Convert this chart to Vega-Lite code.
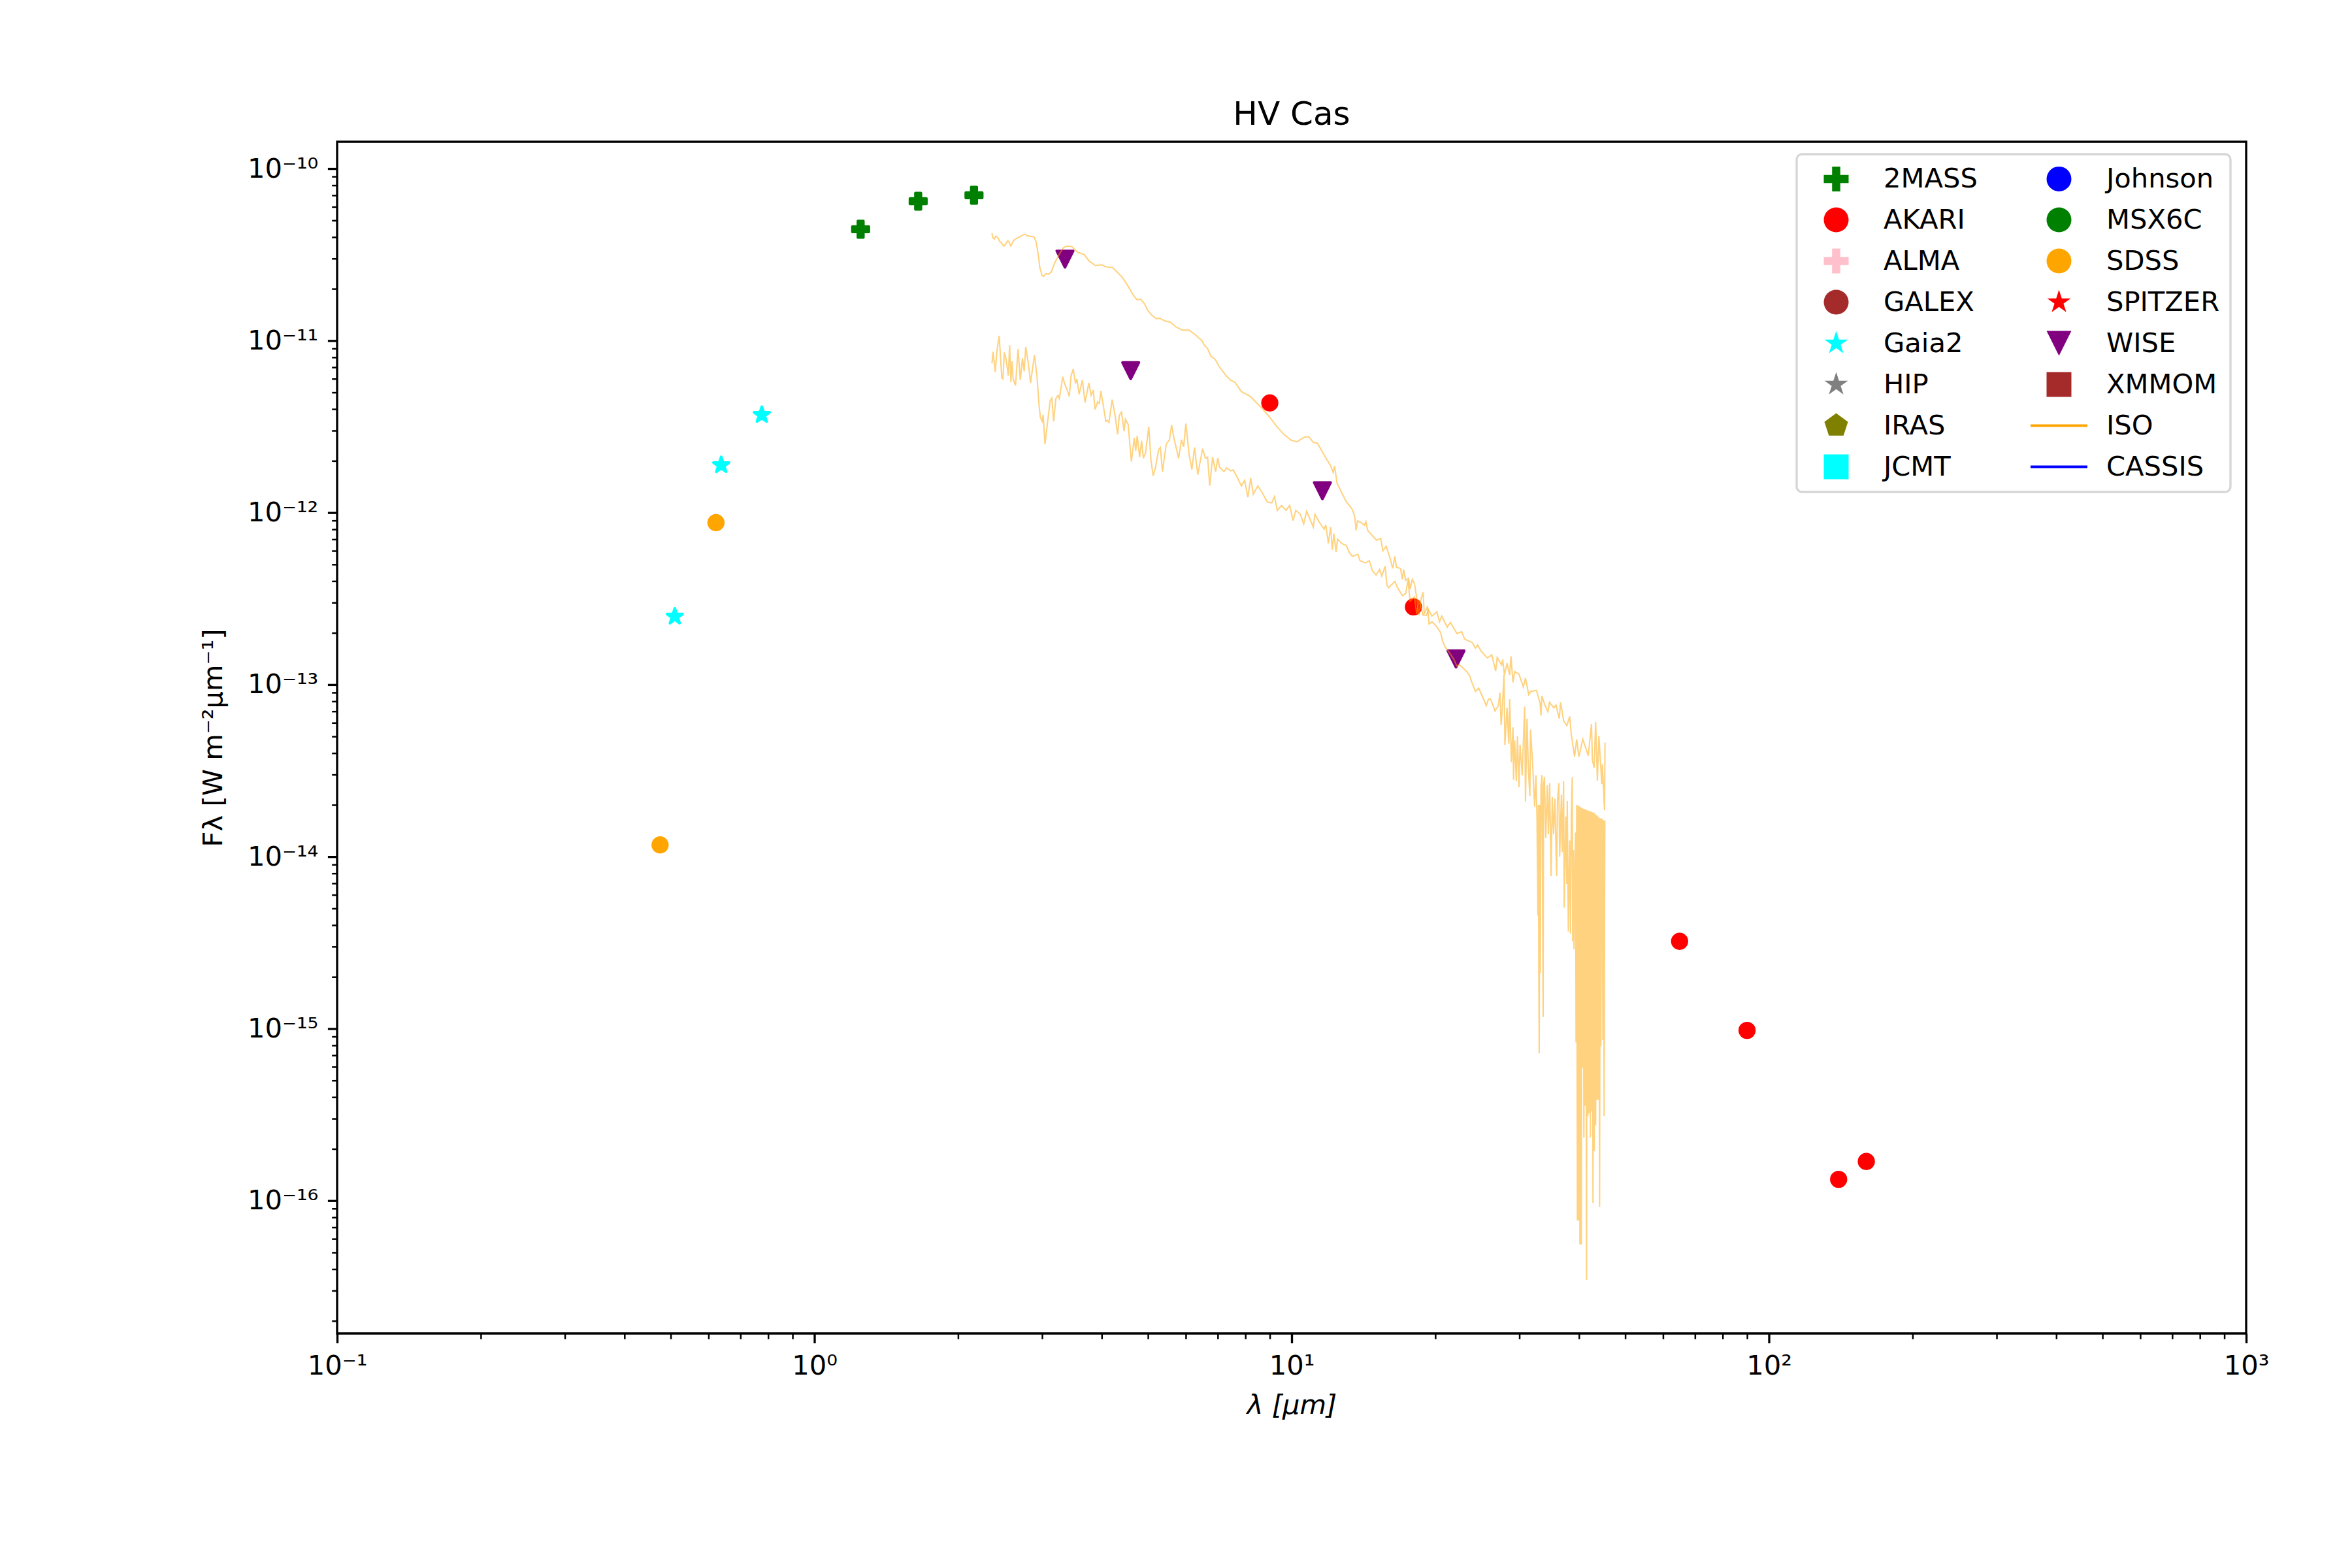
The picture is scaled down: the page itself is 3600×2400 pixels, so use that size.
{"$schema":"https://vega.github.io/schema/vega-lite/v6.json","autosize":{"type":"none"},"padding":{"left":516,"top":217,"right":162,"bottom":359},"width":2922,"height":1824,"background":"white","config":{"view":{"stroke":"black","strokeWidth":3.33},"font":"DejaVu Sans","legend":{"symbolSize":1444,"symbolStrokeWidth":4.17,"symbolOffset":23,"labelOffset":51,"columnPadding":80,"rowPadding":19,"padding":16,"labelFont":"DejaVu Sans","labelFontSize":41.67,"labelColor":"black","labelLimit":400,"strokeColor":"#d6d6d6","strokeWidth":3.33,"fillColor":"white","cornerRadius":8}},"title":{"text":"HV Cas","font":"DejaVu Sans","fontSize":50,"fontWeight":"normal","color":"black","anchor":"middle","offset":16},"datasets":{"photometry":[{"source":"2MASS","wavelength":1.25,"flux":4.44e-11},{"source":"2MASS","wavelength":1.65,"flux":6.46e-11},{"source":"2MASS","wavelength":2.16,"flux":7.0e-11},{"source":"AKARI","wavelength":9,"flux":4.34e-12},{"source":"AKARI","wavelength":18,"flux":2.83e-13},{"source":"AKARI","wavelength":65,"flux":3.22e-15},{"source":"AKARI","wavelength":90,"flux":9.77e-16},{"source":"AKARI","wavelength":140,"flux":1.33e-16},{"source":"AKARI","wavelength":160,"flux":1.69e-16},{"source":"Gaia2","wavelength":0.51,"flux":2.49e-13},{"source":"Gaia2","wavelength":0.638,"flux":1.89e-12},{"source":"Gaia2","wavelength":0.776,"flux":3.7e-12},{"source":"SDSS","wavelength":0.475,"flux":1.17e-14},{"source":"SDSS","wavelength":0.622,"flux":8.74e-13},{"source":"WISE","wavelength":3.35,"flux":2.98e-11},{"source":"WISE","wavelength":4.6,"flux":6.69e-12},{"source":"WISE","wavelength":11.6,"flux":1.34e-12},{"source":"WISE","wavelength":22.1,"flux":1.41e-13}],"iso":[{"spec":"a","wl":2.356,"flux":4.22e-11},{"spec":"a","wl":2.363,"flux":3.98e-11},{"spec":"a","wl":2.383,"flux":3.89e-11},{"spec":"a","wl":2.398,"flux":4.04e-11},{"spec":"a","wl":2.423,"flux":3.98e-11},{"spec":"a","wl":2.444,"flux":3.78e-11},{"spec":"a","wl":2.464,"flux":3.7e-11},{"spec":"a","wl":2.496,"flux":3.54e-11},{"spec":"a","wl":2.517,"flux":3.65e-11},{"spec":"a","wl":2.538,"flux":3.79e-11},{"spec":"a","wl":2.554,"flux":3.78e-11},{"spec":"a","wl":2.581,"flux":3.54e-11},{"spec":"a","wl":2.603,"flux":3.73e-11},{"spec":"a","wl":2.63,"flux":3.89e-11},{"spec":"a","wl":2.672,"flux":3.96e-11},{"spec":"a","wl":2.715,"flux":4.07e-11},{"spec":"a","wl":2.758,"flux":4.15e-11},{"spec":"a","wl":2.808,"flux":4.05e-11},{"spec":"a","wl":2.885,"flux":4.01e-11},{"spec":"a","wl":2.915,"flux":3.75e-11},{"spec":"a","wl":2.946,"flux":3.15e-11},{"spec":"a","wl":2.968,"flux":2.65e-11},{"spec":"a","wl":3.0,"flux":2.39e-11},{"spec":"a","wl":3.022,"flux":2.36e-11},{"spec":"a","wl":3.057,"flux":2.45e-11},{"spec":"a","wl":3.096,"flux":2.43e-11},{"spec":"a","wl":3.138,"flux":2.51e-11},{"spec":"a","wl":3.185,"flux":2.81e-11},{"spec":"a","wl":3.246,"flux":3.11e-11},{"spec":"a","wl":3.314,"flux":3.44e-11},{"spec":"a","wl":3.368,"flux":3.54e-11},{"spec":"a","wl":3.457,"flux":3.53e-11},{"spec":"a","wl":3.512,"flux":3.39e-11},{"spec":"a","wl":3.568,"flux":3.25e-11},{"spec":"a","wl":3.674,"flux":3.17e-11},{"spec":"a","wl":3.76,"flux":2.91e-11},{"spec":"a","wl":3.88,"flux":2.73e-11},{"spec":"a","wl":4.004,"flux":2.76e-11},{"spec":"a","wl":4.068,"flux":2.69e-11},{"spec":"a","wl":4.213,"flux":2.66e-11},{"spec":"a","wl":4.311,"flux":2.5e-11},{"spec":"a","wl":4.426,"flux":2.32e-11},{"spec":"a","wl":4.544,"flux":2.07e-11},{"spec":"a","wl":4.64,"flux":1.87e-11},{"spec":"a","wl":4.738,"flux":1.73e-11},{"spec":"a","wl":4.828,"flux":1.74e-11},{"spec":"a","wl":4.916,"flux":1.64e-11},{"spec":"a","wl":4.994,"flux":1.5e-11},{"spec":"a","wl":5.1,"flux":1.4e-11},{"spec":"a","wl":5.208,"flux":1.34e-11},{"spec":"a","wl":5.291,"flux":1.35e-11},{"spec":"a","wl":5.432,"flux":1.3e-11},{"spec":"a","wl":5.576,"flux":1.28e-11},{"spec":"a","wl":5.724,"flux":1.2e-11},{"spec":"a","wl":5.907,"flux":1.15e-11},{"spec":"a","wl":6.097,"flux":1.15e-11},{"spec":"a","wl":6.259,"flux":1.09e-11},{"spec":"a","wl":6.493,"flux":9.97e-12},{"spec":"a","wl":6.561,"flux":9.4e-12},{"spec":"a","wl":6.665,"flux":9.0e-12},{"spec":"a","wl":6.771,"flux":8.13e-12},{"spec":"a","wl":6.915,"flux":7.78e-12},{"spec":"a","wl":7.062,"flux":7.02e-12},{"spec":"a","wl":7.288,"flux":6.25e-12},{"spec":"a","wl":7.443,"flux":5.9e-12},{"spec":"a","wl":7.601,"flux":5.73e-12},{"spec":"a","wl":7.846,"flux":5.05e-12},{"spec":"a","wl":8.185,"flux":4.74e-12},{"spec":"a","wl":8.625,"flux":4.1e-12},{"spec":"a","wl":8.993,"flux":3.59e-12},{"spec":"a","wl":9.281,"flux":3.2e-12},{"spec":"a","wl":9.63,"flux":2.85e-12},{"spec":"a","wl":9.99,"flux":2.63e-12},{"spec":"a","wl":10.26,"flux":2.58e-12},{"spec":"a","wl":10.64,"flux":2.75e-12},{"spec":"a","wl":10.87,"flux":2.76e-12},{"spec":"a","wl":11.1,"flux":2.56e-12},{"spec":"a","wl":11.33,"flux":2.53e-12},{"spec":"a","wl":11.7,"flux":2.16e-12},{"spec":"a","wl":12.07,"flux":1.87e-12},{"spec":"a","wl":12.22,"flux":1.71e-12},{"spec":"a","wl":12.3,"flux":1.87e-12},{"spec":"a","wl":12.45,"flux":1.48e-12},{"spec":"a","wl":12.99,"flux":1.17e-12},{"spec":"a","wl":13.41,"flux":1.04e-12},{"spec":"a","wl":13.55,"flux":9.54e-13},{"spec":"a","wl":13.65,"flux":7.89e-13},{"spec":"a","wl":13.74,"flux":8.95e-13},{"spec":"a","wl":13.99,"flux":8.74e-13},{"spec":"a","wl":14.21,"flux":8.44e-13},{"spec":"a","wl":14.31,"flux":8.87e-13},{"spec":"a","wl":14.43,"flux":7.89e-13},{"spec":"a","wl":15.05,"flux":6.92e-13},{"spec":"a","wl":15.37,"flux":7.08e-13},{"spec":"a","wl":15.53,"flux":5.98e-13},{"spec":"a","wl":15.78,"flux":6.38e-13},{"spec":"a","wl":16.11,"flux":5.32e-13},{"spec":"a","wl":16.28,"flux":4.74e-13},{"spec":"a","wl":16.46,"flux":5.56e-13},{"spec":"a","wl":16.58,"flux":4.81e-13},{"spec":"a","wl":16.9,"flux":4.74e-13},{"spec":"a","wl":17.07,"flux":4.09e-13},{"spec":"a","wl":17.16,"flux":4.67e-13},{"spec":"a","wl":17.34,"flux":4.04e-13},{"spec":"a","wl":17.58,"flux":4.16e-13},{"spec":"a","wl":17.71,"flux":3.59e-13},{"spec":"a","wl":17.9,"flux":4.09e-13},{"spec":"a","wl":18.09,"flux":3.86e-13},{"spec":"a","wl":18.28,"flux":3.2e-13},{"spec":"a","wl":18.48,"flux":2.53e-13},{"spec":"a","wl":18.67,"flux":3.15e-13},{"spec":"a","wl":18.86,"flux":3.44e-13},{"spec":"a","wl":18.96,"flux":2.57e-13},{"spec":"a","wl":19.26,"flux":2.85e-13},{"spec":"a","wl":19.41,"flux":2.25e-13},{"spec":"a","wl":19.68,"flux":2.32e-13},{"spec":"a","wl":20.09,"flux":2.19e-13},{"spec":"a","wl":20.52,"flux":2.01e-13},{"spec":"a","wl":20.73,"flux":1.78e-13},{"spec":"a","wl":20.96,"flux":1.66e-13},{"spec":"a","wl":21.39,"flux":1.54e-13},{"spec":"a","wl":21.85,"flux":1.41e-13},{"spec":"a","wl":22.2,"flux":1.28e-13},{"spec":"a","wl":22.43,"flux":1.31e-13},{"spec":"a","wl":22.91,"flux":1.24e-13},{"spec":"a","wl":23.27,"flux":1.19e-13},{"spec":"a","wl":23.64,"flux":1.12e-13},{"spec":"a","wl":23.77,"flux":1.06e-13},{"spec":"a","wl":24.27,"flux":9.13e-14},{"spec":"a","wl":24.66,"flux":9.54e-14},{"spec":"a","wl":25.18,"flux":8.37e-14},{"spec":"a","wl":25.58,"flux":7.55e-14},{"spec":"a","wl":25.85,"flux":8.24e-14},{"spec":"a","wl":26.12,"flux":8.24e-14},{"spec":"a","wl":26.68,"flux":7.02e-14},{"spec":"a","wl":27.1,"flux":7.55e-14},{"spec":"a","wl":27.33,"flux":8.99e-14},{"spec":"a","wl":27.47,"flux":5.81e-14},{"spec":"a","wl":27.62,"flux":7.12e-14},{"spec":"a","wl":27.86,"flux":1.14e-13},{"spec":"a","wl":27.98,"flux":4.47e-14},{"spec":"a","wl":28.27,"flux":7.34e-14},{"spec":"a","wl":28.51,"flux":4.54e-14},{"spec":"a","wl":28.63,"flux":8.24e-14},{"spec":"a","wl":28.87,"flux":3.54e-14},{"spec":"a","wl":29.09,"flux":5.64e-14},{"spec":"a","wl":29.17,"flux":2.8e-14},{"spec":"a","wl":29.33,"flux":4.74e-14},{"spec":"a","wl":29.57,"flux":2.76e-14},{"spec":"a","wl":29.73,"flux":5.02e-14},{"spec":"a","wl":29.95,"flux":2.53e-14},{"spec":"a","wl":30.1,"flux":4.47e-14},{"spec":"a","wl":30.42,"flux":2.97e-14},{"spec":"a","wl":30.65,"flux":5.48e-14},{"spec":"a","wl":30.78,"flux":7.45e-14},{"spec":"a","wl":30.9,"flux":2.09e-14},{"spec":"a","wl":31.13,"flux":6.34e-14},{"spec":"a","wl":31.33,"flux":3.24e-14},{"spec":"a","wl":31.56,"flux":2.25e-14},{"spec":"a","wl":31.66,"flux":5.48e-14},{"spec":"a","wl":31.97,"flux":3.54e-14},{"spec":"a","wl":32.3,"flux":1.95e-14},{"spec":"a","wl":32.5,"flux":2.97e-14},{"spec":"a","wl":32.67,"flux":1.63e-14},{"spec":"a","wl":32.81,"flux":4.54e-15},{"spec":"a","wl":32.88,"flux":2.0e-14},{"spec":"a","wl":32.95,"flux":2.1e-15},{"spec":"a","wl":33.02,"flux":7.18e-16},{"spec":"a","wl":33.09,"flux":2.0e-14},{"spec":"a","wl":33.19,"flux":2.1e-15},{"spec":"a","wl":33.3,"flux":2.54e-14},{"spec":"a","wl":33.47,"flux":2.98e-14},{"spec":"a","wl":33.65,"flux":1.17e-15},{"spec":"a","wl":33.72,"flux":2.61e-14},{"spec":"a","wl":33.86,"flux":2.9e-14},{"spec":"a","wl":34.08,"flux":1.28e-14},{"spec":"a","wl":34.33,"flux":2.61e-14},{"spec":"a","wl":34.51,"flux":1.35e-14},{"spec":"a","wl":34.73,"flux":2.68e-14},{"spec":"a","wl":34.95,"flux":7.71e-15},{"spec":"a","wl":35.17,"flux":2.22e-14},{"spec":"a","wl":35.39,"flux":1.35e-14},{"spec":"a","wl":35.61,"flux":2.17e-14},{"spec":"a","wl":35.91,"flux":7.71e-15},{"spec":"a","wl":36.06,"flux":2.11e-14},{"spec":"a","wl":36.29,"flux":2.68e-14},{"spec":"a","wl":36.44,"flux":1.0e-14},{"spec":"a","wl":36.75,"flux":2.29e-14},{"spec":"a","wl":36.9,"flux":1.06e-14},{"spec":"a","wl":37.14,"flux":2.75e-14},{"spec":"a","wl":37.25,"flux":5.05e-15},{"spec":"a","wl":37.53,"flux":1.71e-14},{"spec":"a","wl":37.72,"flux":6.93e-15},{"spec":"a","wl":37.8,"flux":2.11e-14},{"spec":"a","wl":38.0,"flux":3.67e-15},{"spec":"a","wl":38.24,"flux":1.24e-14},{"spec":"a","wl":38.4,"flux":3.57e-15},{"spec":"a","wl":38.56,"flux":1.8e-14},{"spec":"a","wl":38.72,"flux":2.9e-14},{"spec":"a","wl":38.8,"flux":3.21e-15},{"spec":"a","wl":38.97,"flux":1.09e-14},{"spec":"a","wl":39.05,"flux":2.89e-15},{"spec":"a","wl":39.21,"flux":7.31e-15},{"spec":"a","wl":39.34,"flux":1.38e-14},{"spec":"a","wl":39.44,"flux":8.32e-16},{"spec":"a","wl":39.56,"flux":2.0e-14},{"spec":"a","wl":39.69,"flux":7.66e-17},{"spec":"a","wl":39.81,"flux":1.98e-14},{"spec":"a","wl":39.94,"flux":7.66e-17},{"spec":"a","wl":40.07,"flux":1.96e-14},{"spec":"a","wl":40.19,"flux":5.57e-17},{"spec":"a","wl":40.32,"flux":1.94e-14},{"spec":"a","wl":40.45,"flux":5.57e-17},{"spec":"a","wl":40.57,"flux":1.92e-14},{"spec":"a","wl":40.7,"flux":5.9e-16},{"spec":"a","wl":40.83,"flux":1.9e-14},{"spec":"a","wl":40.96,"flux":2.33e-16},{"spec":"a","wl":41.09,"flux":1.89e-14},{"spec":"a","wl":41.22,"flux":3.56e-16},{"spec":"a","wl":41.35,"flux":1.88e-14},{"spec":"a","wl":41.48,"flux":3.46e-17},{"spec":"a","wl":41.61,"flux":1.86e-14},{"spec":"a","wl":41.74,"flux":3.1e-16},{"spec":"a","wl":41.87,"flux":1.85e-14},{"spec":"a","wl":42.0,"flux":3.21e-16},{"spec":"a","wl":42.13,"flux":1.84e-14},{"spec":"a","wl":42.27,"flux":2.33e-16},{"spec":"a","wl":42.4,"flux":1.83e-14},{"spec":"a","wl":42.53,"flux":3.3e-16},{"spec":"a","wl":42.67,"flux":1.81e-14},{"spec":"a","wl":42.8,"flux":9.7e-17},{"spec":"a","wl":42.94,"flux":1.8e-14},{"spec":"a","wl":43.07,"flux":1.94e-16},{"spec":"a","wl":43.21,"flux":1.78e-14},{"spec":"a","wl":43.35,"flux":2.74e-16},{"spec":"a","wl":43.48,"flux":1.75e-14},{"spec":"a","wl":43.62,"flux":3.85e-16},{"spec":"a","wl":43.76,"flux":1.72e-14},{"spec":"a","wl":43.9,"flux":3.85e-16},{"spec":"a","wl":44.04,"flux":1.69e-14},{"spec":"a","wl":44.18,"flux":9.2e-17},{"spec":"a","wl":44.32,"flux":1.67e-14},{"spec":"a","wl":44.46,"flux":7.89e-16},{"spec":"a","wl":44.6,"flux":1.65e-14},{"spec":"a","wl":44.74,"flux":1.64e-14},{"spec":"a","wl":44.88,"flux":8.6e-16},{"spec":"a","wl":45.02,"flux":1.63e-14},{"spec":"a","wl":45.16,"flux":3.1e-16},{"spec":"a","wl":45.31,"flux":1.62e-14},{"spec":"b","wl":2.356,"flux":7.38e-12},{"spec":"b","wl":2.368,"flux":8.61e-12},{"spec":"b","wl":2.393,"flux":6.57e-12},{"spec":"b","wl":2.413,"flux":8.74e-12},{"spec":"b","wl":2.439,"flux":1.066e-11},{"spec":"b","wl":2.47,"flux":6.07e-12},{"spec":"b","wl":2.483,"flux":5.98e-12},{"spec":"b","wl":2.501,"flux":8.54e-12},{"spec":"b","wl":2.522,"flux":7.78e-12},{"spec":"b","wl":2.549,"flux":6.25e-12},{"spec":"b","wl":2.565,"flux":9.4e-12},{"spec":"b","wl":2.581,"flux":5.73e-12},{"spec":"b","wl":2.595,"flux":7.6e-12},{"spec":"b","wl":2.609,"flux":5.98e-12},{"spec":"b","wl":2.639,"flux":5.48e-12},{"spec":"b","wl":2.672,"flux":8.95e-12},{"spec":"b","wl":2.701,"flux":5.9e-12},{"spec":"b","wl":2.729,"flux":7.9e-12},{"spec":"b","wl":2.752,"flux":6.63e-12},{"spec":"b","wl":2.772,"flux":9.19e-12},{"spec":"b","wl":2.808,"flux":7.34e-12},{"spec":"b","wl":2.838,"flux":5.68e-12},{"spec":"b","wl":2.891,"flux":8.25e-12},{"spec":"b","wl":2.928,"flux":6.16e-12},{"spec":"b","wl":2.953,"flux":4.34e-12},{"spec":"b","wl":2.975,"flux":3.59e-12},{"spec":"b","wl":3.0,"flux":3.39e-12},{"spec":"b","wl":3.016,"flux":3.7e-12},{"spec":"b","wl":3.041,"flux":2.5e-12},{"spec":"b","wl":3.08,"flux":3.34e-12},{"spec":"b","wl":3.119,"flux":4.47e-12},{"spec":"b","wl":3.145,"flux":4.63e-12},{"spec":"b","wl":3.172,"flux":3.39e-12},{"spec":"b","wl":3.206,"flux":4.6e-12},{"spec":"b","wl":3.239,"flux":4.81e-12},{"spec":"b","wl":3.26,"flux":4.6e-12},{"spec":"b","wl":3.314,"flux":6.16e-12},{"spec":"b","wl":3.343,"flux":5.64e-12},{"spec":"b","wl":3.385,"flux":5.17e-12},{"spec":"b","wl":3.421,"flux":4.74e-12},{"spec":"b","wl":3.45,"flux":6.25e-12},{"spec":"b","wl":3.487,"flux":6.82e-12},{"spec":"b","wl":3.524,"flux":5.64e-12},{"spec":"b","wl":3.549,"flux":5.98e-12},{"spec":"b","wl":3.587,"flux":4.88e-12},{"spec":"b","wl":3.644,"flux":5.9e-12},{"spec":"b","wl":3.69,"flux":4.37e-12},{"spec":"b","wl":3.721,"flux":4.91e-12},{"spec":"b","wl":3.76,"flux":5.68e-12},{"spec":"b","wl":3.8,"flux":4.81e-12},{"spec":"b","wl":3.84,"flux":5.17e-12},{"spec":"b","wl":3.873,"flux":3.98e-12},{"spec":"b","wl":3.922,"flux":4.41e-12},{"spec":"b","wl":3.955,"flux":4.32e-12},{"spec":"b","wl":3.984,"flux":5.1e-12},{"spec":"b","wl":4.081,"flux":3.39e-12},{"spec":"b","wl":4.111,"flux":3.44e-12},{"spec":"b","wl":4.142,"flux":3.34e-12},{"spec":"b","wl":4.207,"flux":4.54e-12},{"spec":"b","wl":4.265,"flux":3.7e-12},{"spec":"b","wl":4.319,"flux":2.85e-12},{"spec":"b","wl":4.355,"flux":3.67e-12},{"spec":"b","wl":4.401,"flux":3.84e-12},{"spec":"b","wl":4.457,"flux":2.97e-12},{"spec":"b","wl":4.485,"flux":3.49e-12},{"spec":"b","wl":4.544,"flux":3.25e-12},{"spec":"b","wl":4.615,"flux":1.98e-12},{"spec":"b","wl":4.679,"flux":2.72e-12},{"spec":"b","wl":4.713,"flux":2.29e-12},{"spec":"b","wl":4.748,"flux":2.8e-12},{"spec":"b","wl":4.803,"flux":2.1e-12},{"spec":"b","wl":4.849,"flux":2.61e-12},{"spec":"b","wl":4.89,"flux":2.07e-12},{"spec":"b","wl":4.941,"flux":2.22e-12},{"spec":"b","wl":5.02,"flux":3.15e-12},{"spec":"b","wl":5.073,"flux":2.01e-12},{"spec":"b","wl":5.127,"flux":1.64e-12},{"spec":"b","wl":5.181,"flux":1.81e-12},{"spec":"b","wl":5.263,"flux":2.32e-12},{"spec":"b","wl":5.307,"flux":2.39e-12},{"spec":"b","wl":5.363,"flux":1.73e-12},{"spec":"b","wl":5.46,"flux":2.5e-12},{"spec":"b","wl":5.546,"flux":2.65e-12},{"spec":"b","wl":5.605,"flux":3.23e-12},{"spec":"b","wl":5.665,"flux":2.72e-12},{"spec":"b","wl":5.798,"flux":2.07e-12},{"spec":"b","wl":5.877,"flux":2.65e-12},{"spec":"b","wl":5.94,"flux":2.42e-12},{"spec":"b","wl":6.003,"flux":3.29e-12},{"spec":"b","wl":6.097,"flux":2.19e-12},{"spec":"b","wl":6.18,"flux":1.78e-12},{"spec":"b","wl":6.259,"flux":2.39e-12},{"spec":"b","wl":6.358,"flux":1.66e-12},{"spec":"b","wl":6.507,"flux":2.35e-12},{"spec":"b","wl":6.597,"flux":2.07e-12},{"spec":"b","wl":6.667,"flux":2.1e-12},{"spec":"b","wl":6.736,"flux":1.435e-12},{"spec":"b","wl":6.829,"flux":2.1e-12},{"spec":"b","wl":6.93,"flux":1.73e-12},{"spec":"b","wl":7.003,"flux":2.08e-12},{"spec":"b","wl":7.063,"flux":1.84e-12},{"spec":"b","wl":7.213,"flux":1.73e-12},{"spec":"b","wl":7.304,"flux":1.82e-12},{"spec":"b","wl":7.443,"flux":1.75e-12},{"spec":"b","wl":7.545,"flux":1.77e-12},{"spec":"b","wl":7.722,"flux":1.57e-12},{"spec":"b","wl":7.846,"flux":1.43e-12},{"spec":"b","wl":7.97,"flux":1.54e-12},{"spec":"b","wl":8.097,"flux":1.23e-12},{"spec":"b","wl":8.208,"flux":1.59e-12},{"spec":"b","wl":8.313,"flux":1.28e-12},{"spec":"b","wl":8.49,"flux":1.43e-12},{"spec":"b","wl":8.67,"flux":1.31e-12},{"spec":"b","wl":8.899,"flux":1.15e-12},{"spec":"b","wl":9.089,"flux":1.14e-12},{"spec":"b","wl":9.204,"flux":1.24e-12},{"spec":"b","wl":9.331,"flux":1.03e-12},{"spec":"b","wl":9.528,"flux":1.1e-12},{"spec":"b","wl":9.73,"flux":1.03e-12},{"spec":"b","wl":9.906,"flux":1.1e-12},{"spec":"b","wl":10.07,"flux":9.0e-13},{"spec":"b","wl":10.2,"flux":1.03e-12},{"spec":"b","wl":10.42,"flux":9.82e-13},{"spec":"b","wl":10.6,"flux":8.61e-13},{"spec":"b","wl":10.75,"flux":1.02e-12},{"spec":"b","wl":11.1,"flux":8.24e-13},{"spec":"b","wl":11.19,"flux":9.76e-13},{"spec":"b","wl":11.45,"flux":8.74e-13},{"spec":"b","wl":11.7,"flux":8.01e-13},{"spec":"b","wl":11.79,"flux":8.49e-13},{"spec":"b","wl":11.94,"flux":6.63e-13},{"spec":"b","wl":12.07,"flux":8.24e-13},{"spec":"b","wl":12.17,"flux":6.07e-13},{"spec":"b","wl":12.26,"flux":7.55e-13},{"spec":"b","wl":12.39,"flux":5.9e-13},{"spec":"b","wl":12.48,"flux":7.02e-13},{"spec":"b","wl":12.72,"flux":6.63e-13},{"spec":"b","wl":13.02,"flux":6.44e-13},{"spec":"b","wl":13.19,"flux":5.9e-13},{"spec":"b","wl":13.41,"flux":5.56e-13},{"spec":"b","wl":13.76,"flux":5.73e-13},{"spec":"b","wl":13.91,"flux":5.25e-13},{"spec":"b","wl":14.28,"flux":5.1e-13},{"spec":"b","wl":14.54,"flux":5.25e-13},{"spec":"b","wl":14.77,"flux":4.6e-13},{"spec":"b","wl":15.02,"flux":4.34e-13},{"spec":"b","wl":15.29,"flux":4.67e-13},{"spec":"b","wl":15.45,"flux":4.28e-13},{"spec":"b","wl":15.7,"flux":4.88e-13},{"spec":"b","wl":15.83,"flux":3.81e-13},{"spec":"b","wl":15.95,"flux":3.65e-13},{"spec":"b","wl":16.46,"flux":3.98e-13},{"spec":"b","wl":16.63,"flux":3.7e-13},{"spec":"b","wl":17.07,"flux":3.29e-13},{"spec":"b","wl":17.34,"flux":3.39e-13},{"spec":"b","wl":17.53,"flux":4.04e-13},{"spec":"b","wl":17.71,"flux":3.06e-13},{"spec":"b","wl":18.09,"flux":3.24e-13},{"spec":"b","wl":18.28,"flux":2.57e-13},{"spec":"b","wl":18.48,"flux":3.1e-13},{"spec":"b","wl":18.86,"flux":2.53e-13},{"spec":"b","wl":19.16,"flux":2.53e-13},{"spec":"b","wl":19.36,"flux":2.72e-13},{"spec":"b","wl":19.67,"flux":2.5e-13},{"spec":"b","wl":20.15,"flux":2.65e-13},{"spec":"b","wl":20.41,"flux":2.32e-13},{"spec":"b","wl":20.63,"flux":2.5e-13},{"spec":"b","wl":21.18,"flux":2.16e-13},{"spec":"b","wl":21.51,"flux":2.3e-13},{"spec":"b","wl":22.2,"flux":1.98e-13},{"spec":"b","wl":22.72,"flux":2.03e-13},{"spec":"b","wl":23.03,"flux":1.84e-13},{"spec":"b","wl":23.89,"flux":1.76e-13},{"spec":"b","wl":24.27,"flux":1.63e-13},{"spec":"b","wl":24.53,"flux":1.7e-13},{"spec":"b","wl":24.92,"flux":1.57e-13},{"spec":"b","wl":25.72,"flux":1.43e-13},{"spec":"b","wl":26.26,"flux":1.49e-13},{"spec":"b","wl":26.76,"flux":1.2e-13},{"spec":"b","wl":26.96,"flux":1.44e-13},{"spec":"b","wl":27.54,"flux":1.3e-13},{"spec":"b","wl":27.68,"flux":1.4e-13},{"spec":"b","wl":27.92,"flux":1.14e-13},{"spec":"b","wl":28.27,"flux":1.33e-13},{"spec":"b","wl":28.63,"flux":1.14e-13},{"spec":"b","wl":28.81,"flux":1.46e-13},{"spec":"b","wl":29.09,"flux":1.03e-13},{"spec":"b","wl":29.33,"flux":1.19e-13},{"spec":"b","wl":29.95,"flux":1.15e-13},{"spec":"b","wl":30.58,"flux":9.68e-14},{"spec":"b","wl":30.9,"flux":1.09e-13},{"spec":"b","wl":31.39,"flux":8.74e-14},{"spec":"b","wl":31.73,"flux":9.13e-14},{"spec":"b","wl":32.58,"flux":9.26e-14},{"spec":"b","wl":33.16,"flux":7.78e-14},{"spec":"b","wl":33.3,"flux":6.62e-14},{"spec":"b","wl":33.44,"flux":8.61e-14},{"spec":"b","wl":33.97,"flux":7.55e-14},{"spec":"b","wl":34.44,"flux":6.96e-14},{"spec":"b","wl":34.69,"flux":7.89e-14},{"spec":"b","wl":35.43,"flux":7.34e-14},{"spec":"b","wl":35.8,"flux":7.6e-14},{"spec":"b","wl":36.37,"flux":6.34e-14},{"spec":"b","wl":36.6,"flux":7.89e-14},{"spec":"b","wl":37.15,"flux":6.16e-14},{"spec":"b","wl":37.73,"flux":5.78e-14},{"spec":"b","wl":38.25,"flux":6.53e-14},{"spec":"b","wl":38.53,"flux":5.17e-14},{"spec":"b","wl":39.15,"flux":3.81e-14},{"spec":"b","wl":39.56,"flux":4.81e-14},{"spec":"b","wl":39.98,"flux":3.81e-14},{"spec":"b","wl":40.74,"flux":4.81e-14},{"spec":"b","wl":41.26,"flux":4.34e-14},{"spec":"b","wl":41.83,"flux":3.86e-14},{"spec":"b","wl":42.49,"flux":5.9e-14},{"spec":"b","wl":42.67,"flux":3.65e-14},{"spec":"b","wl":43.03,"flux":3.29e-14},{"spec":"b","wl":43.35,"flux":6.07e-14},{"spec":"b","wl":43.71,"flux":2.76e-14},{"spec":"b","wl":44.03,"flux":5.02e-14},{"spec":"b","wl":44.65,"flux":2.64e-14},{"spec":"b","wl":44.78,"flux":3.44e-14},{"spec":"b","wl":45.25,"flux":1.86e-14},{"spec":"b","wl":45.35,"flux":4.6e-14}]},"encoding":{"x":{"type":"quantitative","scale":{"type":"log","domain":[0.1,1000],"nice":false},"axis":{"title":"λ [μm]","titleFont":"DejaVu Sans","titleFontSize":41.67,"titleFontStyle":"italic","titleFontWeight":"normal","titleColor":"black","titlePadding":19,"domain":false,"grid":false,"tickRound":false,"tickColor":"black","tickWidth":{"condition":{"test":"abs(log(datum.value)/LN10-round(log(datum.value)/LN10))<0.001","value":3.33},"value":2.5},"tickSize":{"condition":{"test":"abs(log(datum.value)/LN10-round(log(datum.value)/LN10))<0.001","value":14.6},"value":8.3},"labelFont":"DejaVu Sans","labelFontSize":41.67,"labelColor":"black","labelPadding":14.6,"labelOverlap":false,"labelFlush":false,"values":[0.1,0.2,0.3,0.4,0.5,0.6,0.7,0.8,0.9,1,2,3,4,5,6,7,8,9,10,20,30,40,50,60,70,80,90,100,200,300,400,500,600,700,800,900,1000],"labelExpr":"abs(log(datum.value)/LN10-round(log(datum.value)/LN10))<0.001 ? '10'+{'-1':'⁻¹','0':'⁰','1':'¹','2':'²','3':'³'}[''+round(log(datum.value)/LN10)] : ''"}},"y":{"type":"quantitative","scale":{"type":"log","domain":[1.69e-17,1.432e-10],"nice":false},"axis":{"title":"Fλ [W m⁻²μm⁻¹]","titleFont":"DejaVu Sans","titleFontSize":41.67,"titleFontWeight":"normal","titleColor":"black","titlePadding":30,"domain":false,"grid":false,"tickRound":false,"tickColor":"black","tickWidth":{"condition":{"test":"abs(log(datum.value)/LN10-round(log(datum.value)/LN10))<0.001","value":3.33},"value":2.5},"tickSize":{"condition":{"test":"abs(log(datum.value)/LN10-round(log(datum.value)/LN10))<0.001","value":14.6},"value":8.3},"labelFont":"DejaVu Sans","labelFontSize":41.67,"labelColor":"black","labelPadding":14.6,"labelOverlap":false,"labelFlush":false,"values":[2e-17,3e-17,4e-17,5e-17,6e-17,7e-17,8e-17,9e-17,1e-16,2e-16,3e-16,4e-16,5e-16,6e-16,7e-16,8e-16,9e-16,1e-15,2e-15,3e-15,4e-15,5e-15,6e-15,7e-15,8e-15,9e-15,1e-14,2e-14,3e-14,4e-14,5e-14,6e-14,7e-14,8e-14,9e-14,1e-13,2e-13,3e-13,4e-13,5e-13,6e-13,7e-13,8e-13,9e-13,1e-12,2e-12,3e-12,4e-12,5e-12,6e-12,7e-12,8e-12,9e-12,1e-11,2e-11,3e-11,4e-11,5e-11,6e-11,7e-11,8e-11,9e-11,1e-10],"labelExpr":"abs(log(datum.value)/LN10-round(log(datum.value)/LN10))<0.001 ? '10'+{'-16':'⁻¹⁶','-15':'⁻¹⁵','-14':'⁻¹⁴','-13':'⁻¹³','-12':'⁻¹²','-11':'⁻¹¹','-10':'⁻¹⁰'}[''+round(log(datum.value)/LN10)] : ''"}}},"layer":[{"data":{"name":"photometry"},"mark":{"type":"point","filled":true,"opacity":1,"strokeWidth":4.17,"strokeJoin":"round"},"encoding":{"x":{"field":"wavelength","type":"quantitative"},"y":{"field":"flux","type":"quantitative"},"color":{"field":"source","type":"nominal","scale":{"domain":["2MASS","AKARI","ALMA","GALEX","Gaia2","HIP","IRAS","JCMT","Johnson","MSX6C","SDSS","SPITZER","WISE","XMMOM","ISO","CASSIS"],"range":["green","red","pink","brown","cyan","gray","olive","cyan","blue","green","orange","red","purple","brown","orange","blue"]},"legend":{"title":null,"orient":"none","legendX":2234,"legendY":19,"columns":2,"encode":{"symbols":{"size":{"value":{"expr":"{'2MASS':1444,'AKARI':1104,'ALMA':1444,'GALEX':1104,'Gaia2':750,'HIP':750,'IRAS':1340,'JCMT':1444,'Johnson':1104,'MSX6C':1104,'SDSS':1104,'SPITZER':750,'WISE':1190,'XMMOM':1444,'ISO':1444,'CASSIS':1444}[datum.value]"}},"stroke":{"value":"transparent"},"strokeWidth":{"value":0}}}}},"stroke":{"field":"source","type":"nominal","legend":null,"scale":{"domain":["2MASS","AKARI","Gaia2","SDSS","WISE"],"range":["green","red","cyan","orange","purple"]}},"shape":{"field":"source","type":"nominal","scale":{"domain":["2MASS","AKARI","ALMA","GALEX","Gaia2","HIP","IRAS","JCMT","Johnson","MSX6C","SDSS","SPITZER","WISE","XMMOM","ISO","CASSIS"],"range":["M-0.33,-1L0.33,-1L0.33,-0.33L1,-0.33L1,0.33L0.33,0.33L0.33,1L-0.33,1L-0.33,0.33L-1,0.33L-1,-0.33L-0.33,-0.33Z","circle","M-0.33,-1L0.33,-1L0.33,-0.33L1,-0.33L1,0.33L0.33,0.33L0.33,1L-0.33,1L-0.33,0.33L-1,0.33L-1,-0.33L-0.33,-0.33Z","circle","M0,-1L0.2245,-0.309L0.951,-0.309L0.363,0.118L0.588,0.809L0,0.382L-0.588,0.809L-0.363,0.118L-0.951,-0.309L-0.2245,-0.309Z","M0,-1L0.2245,-0.309L0.951,-0.309L0.363,0.118L0.588,0.809L0,0.382L-0.588,0.809L-0.363,0.118L-0.951,-0.309L-0.2245,-0.309Z","M0,-1L0.951,-0.309L0.588,0.809L-0.588,0.809L-0.951,-0.309Z","square","circle","circle","circle","M0,-1L0.2245,-0.309L0.951,-0.309L0.363,0.118L0.588,0.809L0,0.382L-0.588,0.809L-0.363,0.118L-0.951,-0.309L-0.2245,-0.309Z","M-1,-1L1,-1L0,1Z","square","M-2.29,-0.11L2.29,-0.11L2.29,0.11L-2.29,0.11Z","M-2.29,-0.11L2.29,-0.11L2.29,0.11L-2.29,0.11Z"]},"legend":{"title":null,"orient":"none","legendX":2234,"legendY":19,"columns":2,"encode":{"symbols":{"size":{"value":{"expr":"{'2MASS':1444,'AKARI':1104,'ALMA':1444,'GALEX':1104,'Gaia2':750,'HIP':750,'IRAS':1340,'JCMT':1444,'Johnson':1104,'MSX6C':1104,'SDSS':1104,'SPITZER':750,'WISE':1190,'XMMOM':1444,'ISO':1444,'CASSIS':1444}[datum.value]"}},"stroke":{"value":"transparent"},"strokeWidth":{"value":0}}}}},"size":{"field":"source","type":"nominal","legend":null,"scale":{"type":"ordinal","domain":["2MASS","AKARI","Gaia2","SDSS","WISE"],"range":[625,491,625,491,625]}}}},{"data":{"name":"iso"},"mark":{"type":"line","color":"orange","opacity":0.5,"strokeWidth":2.08,"interpolate":"linear","clip":false},"encoding":{"x":{"field":"wl","type":"quantitative"},"y":{"field":"flux","type":"quantitative"},"detail":{"field":"spec","type":"nominal"}}}]}
